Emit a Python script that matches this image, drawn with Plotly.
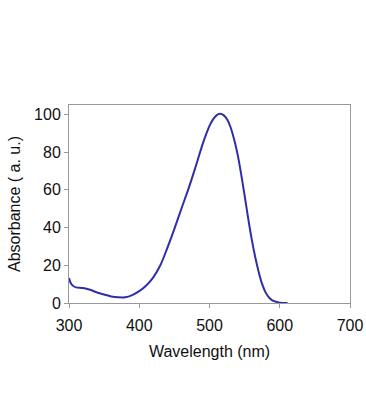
import plotly.graph_objects as go

wavelength = [300, 303, 306, 310, 320, 330, 340, 350, 360, 370, 380, 390, 400, 410, 420,
              430, 440, 450, 460, 470, 480, 490, 495, 500, 505, 510, 515, 520, 525, 530,
              535, 540, 545, 550, 555, 560, 565, 570, 575, 580, 585, 590, 600, 611]
absorbance = [13.2, 10.2, 9.0, 8.3, 7.9, 7.0, 5.6, 4.5, 3.5, 3.0, 3.0, 4.2, 6.3, 9.3, 13.6,
              20.0, 29.2, 39.3, 50.0, 60.5, 72.0, 84.0, 89.3, 93.9, 97.4, 99.5, 100.3, 99.6, 97.4, 93.2,
              86.8, 78.8, 68.5, 57.0, 45.0, 34.0, 24.5, 16.5, 10.0, 5.5, 2.8, 1.3, 0.2, 0.0]

x_ticks = [300, 400, 500, 600, 700]
y_ticks = [0, 20, 40, 60, 80, 100]

fig = go.Figure()
fig.add_trace(go.Scatter(x=wavelength, y=absorbance, mode="lines",
                         line=dict(color="#2e2eab", width=2, shape="spline", smoothing=1.0),
                         showlegend=False, hoverinfo="skip"))

font = dict(family="Liberation Sans, Arial, sans-serif", size=16, color="#111111")

fig.update_layout(
    width=366, height=419,
    margin=dict(l=69, r=16, t=105, b=116),
    paper_bgcolor="#ffffff", plot_bgcolor="#ffffff",
    font=font,
    xaxis=dict(range=[300, 700], tickvals=x_ticks, ticks="outside", ticklen=4,
               tickcolor="#999999", showline=True, linecolor="#999999", linewidth=1,
               mirror=True, showgrid=False, zeroline=False, ticklabelstandoff=4,
               automargin=False,
               title=dict(text="Wavelength (nm)", standoff=12, font=font), tickfont=font),
    yaxis=dict(range=[0, 105], tickvals=y_ticks, ticks="outside", ticklen=4,
               tickcolor="#999999", showline=True, linecolor="#999999", linewidth=1,
               mirror=True, showgrid=False, zeroline=False, automargin=False,
               title=dict(text="Absorbance ( a. u.)", standoff=9, font=font), tickfont=font),
)

fig.write_html("out.html", config={"displayModeBar": False},
               post_script="document.body.style.margin='0';")
